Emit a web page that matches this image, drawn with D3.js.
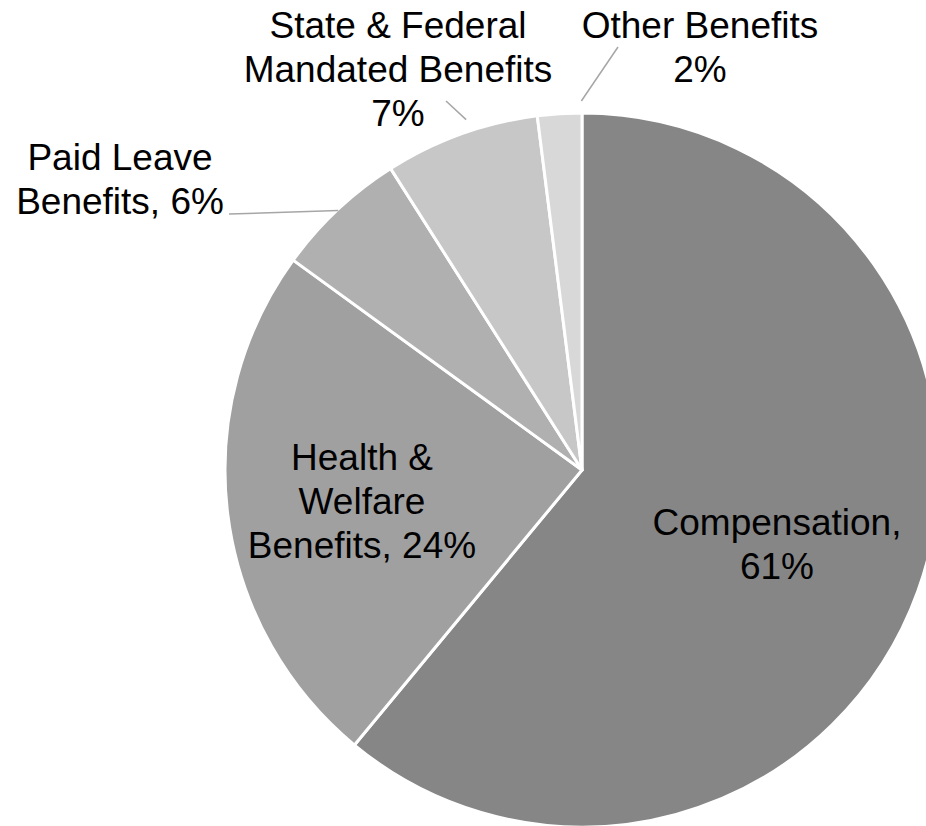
<!DOCTYPE html>
<html>
<head>
<meta charset="utf-8">
<script src="https://cdn.jsdelivr.net/npm/d3@7"></script>
<style>
  body { margin: 0; background: #fff; }
  svg { display: block; }
</style>
</head>
<body>
<div id="chart"></div>
<script>
// Slice data, clockwise from 12 o'clock
const categories = ["Compensation", "Health & Welfare Benefits", "Paid Leave Benefits",
                    "State & Federal Mandated Benefits", "Other Benefits"];
const values = [61, 24, 6, 7, 2];
const labelLines = [
  ["Compensation,", "61%"],
  ["Health &", "Welfare", "Benefits, 24%"],
  ["Paid Leave", "Benefits, 6%"],
  ["State & Federal", "Mandated Benefits", "7%"],
  ["Other Benefits", "2%"]
];
const colors = ["#868686", "#a0a0a0", "#b0b0b0", "#c7c7c7", "#d8d8d8"];

const width = 926, height = 826;
const cx = 582, cy = 470, r = 357;
const lineH = 44;

// label placement (block centre x, first baseline y) and leader lines
const labelPos = [
  { x: 777, y: 535 },
  { x: 362, y: 470 },
  { x: 120, y: 170 },
  { x: 398, y: 38 },
  { x: 700, y: 38 }
];
const leaders = [
  null,
  null,
  { r: r - 1, nudge: 0, to: [229, 214] },
  { r: r + 12, nudge: 1.5, to: [446, 101] },
  { r: r + 12, nudge: 3.5, to: [618, 47] }
];

const svg = d3.select("#chart")
  .append("svg")
  .attr("width", width)
  .attr("height", height);

const g = svg.append("g").attr("transform", `translate(${cx},${cy})`);

const pie = d3.pie().sort(null).value(d => d);
const arcs = pie(values);
const arc = d3.arc().innerRadius(0).outerRadius(r);

g.selectAll("path.slice")
  .data(arcs)
  .enter()
  .append("path")
  .attr("class", "slice")
  .attr("d", arc)
  .attr("fill", (d, i) => colors[i])
  .attr("stroke", "#fff")
  .attr("stroke-width", 3)
  .attr("stroke-linejoin", "round");

// leader lines
arcs.forEach((d, i) => {
  const l = leaders[i];
  if (!l) return;
  const a = (d.startAngle + d.endAngle) / 2 + l.nudge * Math.PI / 180;
  const x1 = cx + l.r * Math.sin(a), y1 = cy - l.r * Math.cos(a);
  svg.append("line")
    .attr("x1", x1).attr("y1", y1)
    .attr("x2", l.to[0]).attr("y2", l.to[1])
    .attr("stroke", "#a6a6a6")
    .attr("stroke-width", 1.5);
});

// labels
labelLines.forEach((lines, i) => {
  const t = svg.append("text")
    .attr("text-anchor", "middle")
    .attr("font-family", "'Liberation Sans', Arial, sans-serif")
    .attr("font-size", 37)
    .attr("fill", "#000");
  lines.forEach((s, j) => {
    t.append("tspan")
      .attr("x", labelPos[i].x)
      .attr("y", labelPos[i].y + j * lineH)
      .text(s);
  });
});
</script>
</body>
</html>
